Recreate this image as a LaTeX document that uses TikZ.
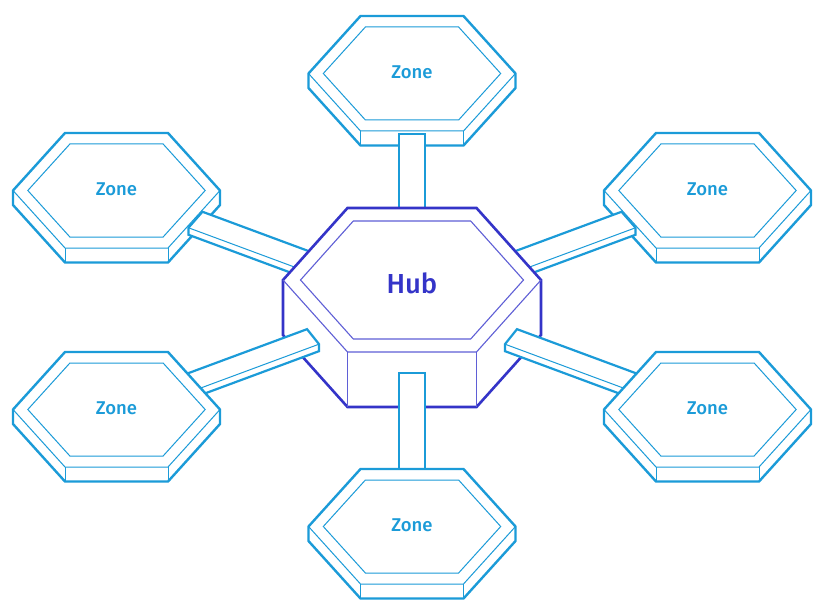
\documentclass[tikz,border=0pt]{standalone}
\usepackage{fontspec}
\setmainfont{Fira Sans}
\newfontfamily\labelfont{Fira Sans Medium}
\usepackage{tikz}
\usetikzlibrary{calc,positioning}
\definecolor{zoneblue}{RGB}{27,155,216}
\definecolor{hubblue}{RGB}{52,52,200}
\definecolor{hubline}{RGB}{95,95,214}
\tikzstyle{zoneouter} = [draw=zoneblue, line width=2.4pt, fill=white]
\tikzstyle{zonethin}  = [draw=zoneblue, line width=1pt]
\tikzstyle{zonetext}  = [text=zoneblue, font=\labelfont\fontsize{18.5}{20}\selectfont]
\tikzstyle{hubouter}  = [draw=hubblue, line width=2.6pt, fill=white]
\tikzstyle{hubthin}   = [draw=hubline, line width=1.1pt]
\tikzstyle{hubtext}   = [text=hubblue, font=\labelfont\fontsize{27.5}{30}\selectfont]
\tikzstyle{linkface}  = [draw=zoneblue, line width=2.2pt, fill=white]
\tikzstyle{linkedge}  = [draw=zoneblue, line width=1pt]
\newcommand{\zonetile}[1]{%
  \begin{scope}[shift={(#1)}]
    \draw[zoneouter] (-51.5,-57.5) -- (51.5,-57.5) -- (103.5,0) -- (103.5,14.5) -- (51.5,72) -- (-51.5,72) -- (-103.5,14.5) -- (-103.5,0) -- cycle;
    \draw[zonethin] (-103.5,0) -- (-51.5,57.5) -- (51.5,57.5) -- (103.5,0);
    \draw[zonethin] (-51.5,57.5) -- (-51.5,72) (51.5,57.5) -- (51.5,72);
    \draw[zonethin] (-46.6,-46.5) -- (46.6,-46.5) -- (88.7,0) -- (46.6,46.5) -- (-46.6,46.5) -- (-88.7,0) -- cycle;
    \node[zonetext] (#1-label) at (0,-1.5) {Zone};
  \end{scope}}
\newcommand{\zonelink}[6]{%
  \coordinate (s) at ($(#1)!#2!(core)$);
  \coordinate (e) at ($(#1)!#3!(core)$);
  \draw[linkface] ($(s)-(#4,#5)$) -- ($(e)-(#4,#5)$) -- ($(e)+(#4,#5)$) -- ++(0,#6) -- ($(s)+(#4,#5)+(0,#6)$) -- ($(s)+(#4,#5)$) -- cycle;
  \draw[linkedge] ($(s)+(#4,#5)$) -- ($(e)+(#4,#5)$);}
\begin{document}
\begin{tikzpicture}[x=1pt,y=-1pt]
\useasboundingbox[fill=white] (0,0) rectangle (822,615);
\coordinate (core) at (412,300);
\coordinate (hubc) at (412,280);
\coordinate (zN)  at (412,73.5);
\coordinate (zNW) at (116.5,190.5);
\coordinate (zNE) at (707.5,190.5);
\coordinate (zSW) at (116.5,409.5);
\coordinate (zSE) at (707.5,409.5);
\coordinate (zS)  at (412,526.5);

\zonetile{zN}
\zonelink{zN}{60.5pt}{150pt}{13}{0}{0}
\zonetile{zNW}
\zonetile{zNE}
\zonelink{zNW}{84.2pt}{220pt}{-7}{8}{7}
\zonelink{zNE}{84.2pt}{220pt}{7}{8}{7}

\begin{scope}[shift={(hubc)}]
  \draw[hubouter] (-64.5,-72) -- (64.5,-72) -- (129,0) -- (129,55) -- (64.5,127) -- (-64.5,127) -- (-129,55) -- (-129,0) -- cycle;
  \draw[hubthin] (-129,0) -- (-64.5,72) -- (64.5,72) -- (129,0);
  \draw[hubthin] (-64.5,72) -- (-64.5,127) (64.5,72) -- (64.5,127);
  \draw[hubthin] (-58.7,-59) -- (58.7,-59) -- (111.5,0) -- (58.7,59) -- (-58.7,59) -- (-111.5,0) -- cycle;
  \node[hubtext] (hub) at (0,3) {Hub};
\end{scope}

\zonelink{zSW}{60pt}{209.6pt}{6}{7.5}{7}
\zonelink{zSE}{60pt}{209.6pt}{-6}{7.5}{7}
\zonelink{zS}{40pt}{153.5pt}{13}{0}{0}
\zonetile{zSW}
\zonetile{zSE}
\zonetile{zS}
\end{tikzpicture}
\end{document}
